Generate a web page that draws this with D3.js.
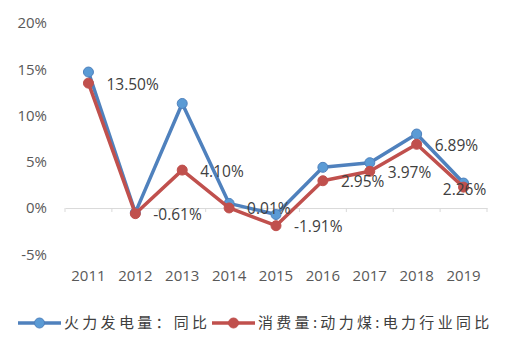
<!DOCTYPE html>
<html><head><meta charset="utf-8">
<script src="https://cdn.jsdelivr.net/npm/d3@7"></script>
<style>
body{margin:0;background:#fff;}
svg{display:block;}
</style></head>
<body>
<svg id="chart" width="516" height="349"></svg>
<script>
const years = ["2011","2012","2013","2014","2015","2016","2017","2018","2019"];
const thermalPower = [14.7, -0.5, 11.3, 0.5, -0.7, 4.4, 4.9, 8.0, 2.7];
const coalConsumption = [13.50, -0.61, 4.10, 0.01, -1.91, 2.95, 3.97, 6.89, 2.26];
const yTicks = [-5, 0, 5, 10, 15, 20];
const seriesNames = ["火力发电量：同比", "消费量:动力煤:电力行业同比"];
const colors = {blue: "#4F81BD", blueMarker: "#5B9BD5", red: "#C0504D"};

const svg = d3.select("#chart");
const x = d3.scaleBand().domain(years).range([65, 487]);
const y = d3.scaleLinear().domain([-5, 20]).range([254.3, 23]);
const cx = d => x(d) + x.bandwidth() / 2;
const latin = "Open Sans, Noto Sans, sans-serif";

// y axis labels
svg.append("g").selectAll("text").data(yTicks).join("text")
  .attr("x", 47).attr("y", d => y(d)).attr("dy", "0.35em")
  .attr("text-anchor", "end")
  .attr("font-family", latin)
  .attr("font-size", 15).attr("fill", "#595959")
  .text(d => d + "%");

// zero axis with category ticks
const xAxis = d3.axisBottom(x).tickSize(0).tickFormat("");
const gx = svg.append("g").attr("transform", `translate(0,${y(0)})`).call(xAxis);
gx.select(".domain").attr("stroke", "#d9d9d9").attr("stroke-width", 1);
gx.selectAll("line.cat").data(years.concat(["end"])).join("line")
  .attr("class", "cat")
  .attr("x1", (d, i) => 65 + i * x.bandwidth())
  .attr("x2", (d, i) => 65 + i * x.bandwidth())
  .attr("y1", 0).attr("y2", 4)
  .attr("stroke", "#d9d9d9");

// category labels
svg.append("g").selectAll("text").data(years).join("text")
  .attr("x", d => cx(d)).attr("y", 276).attr("dy", "0.35em")
  .attr("text-anchor", "middle")
  .attr("font-family", latin)
  .attr("font-size", 15).attr("fill", "#595959")
  .text(d => d);

const line = d3.line().x((d, i) => cx(years[i])).y(d => y(d));

function drawSeries(data, stroke, fill) {
  svg.append("path").datum(data)
    .attr("d", line).attr("fill", "none")
    .attr("stroke", stroke).attr("stroke-width", 3.5)
    .attr("stroke-linejoin", "round");
  svg.append("g").selectAll("circle").data(data).join("circle")
    .attr("cx", (d, i) => cx(years[i])).attr("cy", d => y(d))
    .attr("r", 5).attr("fill", fill).attr("stroke", stroke).attr("stroke-width", 1);
}
drawSeries(thermalPower, colors.blue, colors.blueMarker);
drawSeries(coalConsumption, colors.red, colors.red);

// value labels for coal consumption
const last = years.length - 1;
svg.append("g").selectAll("text").data(coalConsumption).join("text")
  .attr("x", (d, i) => i === last ? cx(years[i]) + 1 : cx(years[i]) + 18)
  .attr("y", (d, i) => y(d) + (i === last ? 2 : 1))
  .attr("dy", "0.35em")
  .attr("text-anchor", (d, i) => i === last ? "middle" : "start")
  .attr("font-family", latin)
  .attr("font-size", 15.5).attr("fill", "#404040")
  .text(d => d.toFixed(2) + "%");

// legend
const legend = svg.append("g").attr("transform", "translate(0,323)");
const items = [
  {name: seriesNames[0], stroke: colors.blue, fill: colors.blueMarker, x0: 18},
  {name: seriesNames[1], stroke: colors.red, fill: colors.red, x0: 212}
];
items.forEach(it => {
  legend.append("line").attr("x1", it.x0).attr("x2", it.x0 + 43)
    .attr("y1", 0).attr("y2", 0)
    .attr("stroke", it.stroke).attr("stroke-width", 3.5);
  legend.append("circle").attr("cx", it.x0 + 21.5).attr("cy", 0).attr("r", 5)
    .attr("fill", it.fill).attr("stroke", it.stroke);
  legend.append("text").attr("x", it.x0 + 46).attr("y", 0).attr("dy", "0.36em")
    .attr("font-family", "Noto Sans CJK SC, sans-serif")
    .attr("font-size", 15).attr("letter-spacing", 3.3).attr("fill", "#404040")
    .text(it.name);
});
</script>
</body></html>
